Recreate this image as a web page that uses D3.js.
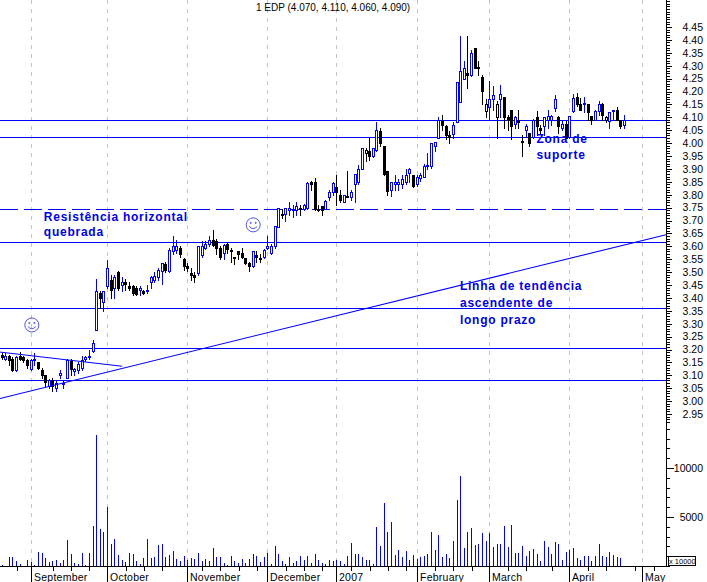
<!DOCTYPE html>
<html><head><meta charset="utf-8">
<script src="https://cdnjs.cloudflare.com/ajax/libs/d3/7.8.5/d3.min.js"></script>
<style>html,body{margin:0;padding:0;background:#fff;overflow:hidden}svg{display:block}
text{font-family:"Liberation Sans",Arial,sans-serif}</style></head><body><div id="c"></div>
<script>
const opens=[3.18,3.165,3.175,3.165,3.12,3.175,3.17,3.16,3.125,3.16,
3.15,3.12,3.10,3.06,3.08,3.05,3.10,3.07,3.09,3.155,
3.115,3.12,3.13,3.165,3.17,3.195,3.275,3.42,3.385,3.445,
3.47,3.44,3.50,3.45,3.46,3.445,3.445,3.44,3.43,3.425,
3.425,3.46,3.47,3.48,3.505,3.53,3.505,3.58,3.585,3.595,
3.55,3.525,3.495,3.49,3.495,3.565,3.595,3.61,3.625,3.62,
3.595,3.575,3.61,3.585,3.56,3.58,3.575,3.555,3.535,3.525,
3.565,3.555,3.56,3.595,3.575,3.60,3.675,3.725,3.725,3.74,
3.74,3.74,3.75,3.745,3.75,3.85,3.85,3.745,3.755,3.745,
3.79,3.81,3.83,3.80,3.77,3.795,3.79,3.84,3.85,3.90,
3.975,3.97,3.95,3.975,4.045,3.99,3.89,3.82,3.84,3.84,
3.84,3.85,3.885,3.875,3.84,3.865,3.87,3.91,3.91,3.99,
4.02,4.085,4.065,4.03,4.035,4.08,4.16,4.25,4.27,4.265,
4.37,4.295,4.255,4.15,4.14,4.17,4.15,4.17,4.18,4.10,
4.13,4.075,4.085,4.01,4.05,4.04,4.025,4.10,4.06,4.065,
4.09,4.09,4.135,4.10,4.06,4.075,4.025,4.125,4.18,4.15,
4.15,4.15,4.105,4.09,4.125,4.15,4.10,4.085,4.125,4.13,4.09,4.07];
const highs=[3.185,3.185,3.18,3.17,3.175,3.19,3.175,3.165,3.165,3.185,
3.15,3.13,3.10,3.085,3.09,3.08,3.12,3.08,3.165,3.165,
3.13,3.15,3.175,3.175,3.20,3.235,3.475,3.425,3.425,3.545,
3.49,3.49,3.505,3.48,3.475,3.46,3.45,3.445,3.445,3.43,
3.45,3.485,3.50,3.515,3.535,3.54,3.595,3.64,3.625,3.60,
3.555,3.535,3.515,3.50,3.60,3.62,3.62,3.64,3.665,3.63,
3.60,3.61,3.615,3.595,3.56,3.58,3.595,3.555,3.54,3.58,
3.58,3.57,3.59,3.64,3.61,3.68,3.75,3.745,3.75,3.77,
3.76,3.77,3.76,3.765,3.85,3.855,3.865,3.76,3.755,3.78,
3.82,3.85,3.875,3.82,3.80,3.89,3.82,3.88,3.915,3.98,
3.98,4.02,3.98,4.08,4.06,3.99,3.89,3.85,3.875,3.86,
3.875,3.90,3.905,3.875,3.875,3.885,3.92,3.96,4.00,4.005,
4.10,4.11,4.07,4.045,4.08,4.235,4.415,4.32,4.415,4.36,
4.37,4.32,4.265,4.17,4.24,4.22,4.165,4.225,4.18,4.11,
4.13,4.105,4.13,4.03,4.075,4.04,4.095,4.125,4.07,4.10,
4.13,4.11,4.185,4.105,4.085,4.085,4.105,4.19,4.195,4.175,
4.18,4.15,4.105,4.13,4.165,4.155,4.105,4.12,4.13,4.14,4.09,4.11];
const lows=[3.165,3.16,3.14,3.115,3.115,3.16,3.15,3.13,3.12,3.14,
3.125,3.09,3.06,3.05,3.04,3.04,3.09,3.05,3.09,3.10,
3.10,3.11,3.12,3.155,3.165,3.19,3.275,3.36,3.35,3.44,
3.40,3.40,3.43,3.425,3.43,3.43,3.41,3.41,3.41,3.415,
3.42,3.44,3.46,3.47,3.455,3.50,3.50,3.57,3.575,3.56,
3.51,3.505,3.47,3.46,3.49,3.56,3.59,3.60,3.60,3.57,
3.55,3.55,3.575,3.54,3.53,3.55,3.555,3.53,3.505,3.52,
3.54,3.54,3.555,3.59,3.57,3.595,3.675,3.71,3.70,3.72,
3.715,3.72,3.72,3.74,3.745,3.82,3.74,3.735,3.72,3.745,
3.78,3.80,3.76,3.77,3.77,3.79,3.78,3.77,3.84,3.90,
3.93,3.935,3.945,3.97,3.99,3.875,3.80,3.795,3.82,3.82,
3.825,3.84,3.85,3.83,3.835,3.855,3.87,3.90,3.905,3.97,
4.02,4.05,4.015,4.00,4.02,4.08,4.16,4.25,4.215,4.26,
4.29,4.265,4.15,4.10,4.09,4.13,4.02,4.10,4.06,4.05,
4.015,4.06,4.06,3.95,4.025,3.99,4.02,4.03,4.04,4.03,
4.06,4.07,4.125,4.04,4.05,4.02,4.02,4.12,4.145,4.13,
4.12,4.09,4.075,4.09,4.11,4.09,4.08,4.06,4.09,4.09,4.06,4.06];
const closes=[3.17,3.175,3.16,3.12,3.17,3.165,3.16,3.14,3.16,3.165,
3.13,3.10,3.075,3.08,3.06,3.07,3.11,3.07,3.16,3.125,
3.125,3.145,3.16,3.17,3.175,3.225,3.425,3.40,3.425,3.515,
3.43,3.48,3.44,3.46,3.455,3.44,3.42,3.415,3.44,3.42,
3.43,3.48,3.485,3.51,3.535,3.51,3.585,3.60,3.60,3.57,
3.525,3.515,3.49,3.48,3.60,3.60,3.61,3.625,3.605,3.595,
3.56,3.605,3.59,3.58,3.555,3.57,3.56,3.535,3.525,3.58,
3.56,3.55,3.585,3.60,3.60,3.68,3.75,3.72,3.75,3.75,
3.745,3.755,3.745,3.76,3.845,3.84,3.745,3.74,3.74,3.775,
3.81,3.845,3.81,3.78,3.80,3.793,3.81,3.88,3.90,3.98,
3.96,3.95,3.98,4.05,4.00,3.88,3.815,3.85,3.85,3.85,
3.86,3.875,3.90,3.835,3.87,3.875,3.91,3.915,4.00,4.005,
4.09,4.07,4.03,4.025,4.07,4.235,4.28,4.29,4.265,4.35,
4.29,4.29,4.20,4.125,4.17,4.185,4.10,4.19,4.10,4.095,
4.065,4.10,4.083,4.005,4.065,4.00,4.09,4.065,4.05,4.10,
4.105,4.105,4.17,4.065,4.075,4.02,4.105,4.175,4.15,4.13,
4.155,4.12,4.09,4.125,4.15,4.11,4.09,4.12,4.13,4.09,4.065,4.09];
const volumes=[100,0,920,920,510,200,0,610,410,100,
1430,1330,820,410,510,610,310,610,2650,1220,
310,200,1330,100,1330,4080,13360,3770,3470,6020,
2240,2750,1120,610,410,1330,1220,510,200,820,
2750,820,920,2140,2240,920,1120,1530,710,510,
1020,610,820,710,1330,510,710,510,1840,920,
920,310,100,1020,510,310,710,310,710,1220,
1020,410,920,1330,200,2040,1220,510,200,920,
310,510,1020,610,1020,310,1220,610,310,200,
610,510,610,510,200,1020,2350,1220,1220,920,
610,610,200,3980,2040,6430,3470,4490,1120,1630,
920,1530,610,1120,710,920,1020,1220,3470,1630,
3160,920,1220,820,2550,6730,9180,1840,3470,3880,
2140,2240,3370,2550,3370,1940,2240,2240,4080,1940,
4180,1330,1330,2040,1020,1530,1730,1220,510,2550,
1940,1220,2450,2240,610,1430,1630,1840,820,610,
1020,1020,510,1020,2240,1020,920,1430,1120,920,820,0];
const blackHollow=[100,133,136,166];
const priceLabels=[4.45,4.40,4.35,4.30,4.25,4.20,4.15,4.10,4.05,4.00,3.95,3.90,3.85,3.80,3.75,3.70,3.65,3.60,3.55,3.50,3.45,3.40,3.35,3.30,3.25,3.20,3.15,3.10,3.05,3.00,2.95];
const volumeLabels=[10000,5000];
const months=["September","October","November","December","2007","February","March","April","May"];
const monthStarts=[8,29,51,73,92,114,134,156,176];
const weekTicks=[4,14,19,24,34,39,44,55,60,65,70,78,83,88,96,101,106,111,119,124,129,139,144,151,161,166,174,179];
const levels=[4.09,4.025,3.615,3.36,3.205,3.08];
const dashedLevels=[3.745];
const trendIdx=[-0.55,182.4], trendPx=[3.01,3.645];
const wedgeIdx=[-0.55,33], wedgePx=[3.19,3.135];
const smileIdx=[8.2,69], smilePx=[3.295,3.683];
const notes=[["Resistência horizontal",11.5,3.70],["quebrada",11.5,3.64],["Zona de",146.8,4.00],["suporte",146.8,3.94],
["Linha de tendência",125.8,3.43],["ascendente de",125.8,3.365],["longo prazo",125.8,3.30]];
const W=707,H=582,BLUE="#0000ff",TXT="#000";
const x=d3.scaleLinear().domain([-0.55,182.4]).range([0,666]);
const y=d3.scaleLinear().domain([4.45,2.95]).range([27,414]);
const v=d3.scaleLinear().domain([0,10000]).range([566,468]);
const svg=d3.select("#c").append("svg").attr("width",W).attr("height",H);
svg.append("rect").attr("width",W).attr("height",H).attr("fill","#fff");
const cols=i=>Math.round(x(i)-0.5);
// grid
svg.append("g").selectAll("line").data(monthStarts).join("line")
 .attr("x1",d=>cols(d)+.5).attr("x2",d=>cols(d)+.5).attr("y1",0).attr("y2",566)
 .attr("stroke","#c4c4c4").attr("stroke-dasharray","4 5");
// levels
const gl=svg.append("g").attr("shape-rendering","crispEdges");
gl.selectAll("line.l").data(levels).join("line").attr("class","l")
 .attr("x1",0).attr("x2",666).attr("y1",d=>Math.round(y(d))+.5).attr("y2",d=>Math.round(y(d))+.5).attr("stroke",BLUE);
gl.selectAll("line.d").data(dashedLevels).join("line").attr("class","d")
 .attr("x1",0).attr("x2",666).attr("y1",d=>Math.round(y(d))+.5).attr("y2",d=>Math.round(y(d))+.5)
 .attr("stroke",BLUE).attr("stroke-dasharray","18 6");
// candles
const idx=d3.range(closes.length);
const isUp=i=>closes[i]>=opens[i];
const col=i=>isUp(i)?BLUE:"#000";
const gc=svg.append("g").attr("shape-rendering","crispEdges");
gc.selectAll("line").data(idx).join("line")
 .attr("x1",i=>cols(i)+.5).attr("x2",i=>cols(i)+.5)
 .attr("y1",i=>Math.round(y(highs[i]))).attr("y2",i=>Math.round(y(lows[i]))+1).attr("stroke",col);
gc.selectAll("rect").data(idx).join("rect")
 .attr("x",i=>cols(i)-.5).attr("width",2)
 .attr("y",i=>Math.round(y(Math.max(opens[i],closes[i])))+.5)
 .attr("height",i=>Math.max(1,Math.round(y(Math.min(opens[i],closes[i])))-Math.round(y(Math.max(opens[i],closes[i])))))
 .attr("stroke",col).attr("fill",i=>(isUp(i)||blackHollow.includes(i))?"#fff":"#000");
// volume
svg.append("g").attr("shape-rendering","crispEdges").selectAll("line").data(idx.filter(i=>volumes[i]>0)).join("line")
 .attr("x1",i=>cols(i)+.5).attr("x2",i=>cols(i)+.5).attr("y1",i=>v(volumes[i])).attr("y2",566).attr("stroke",BLUE);
// trend lines
const seg=(xs,ps,sw)=>svg.append("line").attr("x1",x(xs[0])).attr("x2",x(xs[1])).attr("y1",y(ps[0])).attr("y2",y(ps[1])).attr("stroke",BLUE).attr("stroke-width",sw);
seg(trendIdx,trendPx,1.1); seg(wedgeIdx,wedgePx,1);
// smileys
const sm=svg.append("g").attr("fill","none").attr("stroke","#2a2ae0").attr("stroke-width",.8);
smileIdx.forEach((s,k)=>{
 const cx=x(s),cy=y(smilePx[k]);
 const g=sm.append("g").attr("transform",`translate(${cx},${cy})`);
 g.append("circle").attr("r",7);
 g.append("circle").attr("cx",-2.5).attr("cy",-2).attr("r",.6);
 g.append("circle").attr("cx",2.5).attr("cy",-2).attr("r",.6);
 g.append("path").attr("d","M-4,1.5 Q0,6 4,1.5");
});
// axes
const yMinor=d3.axisRight(y).tickValues(d3.range(292,456).map(d=>d/100)).tickSize(4).tickFormat("");
const yMajor=d3.axisRight(y).tickValues(priceLabels).tickSize(6).tickFormat(d3.format(".2f"));
const vMinor=d3.axisRight(v).tickValues(d3.range(0,14001,1000)).tickSize(4).tickFormat("");
const vMajor=d3.axisRight(v).tickValues(volumeLabels).tickSize(8).tickFormat(d3.format("d"));
[yMinor,yMajor,vMinor,vMajor].forEach(a=>{
 const g=svg.append("g").attr("transform","translate(666,0)").call(a);
 g.select(".domain").remove();
 g.selectAll("line").attr("stroke","#000").attr("shape-rendering","crispEdges");
 g.selectAll("text").attr("x",37).attr("text-anchor","end").attr("font-size",10.5).attr("fill",TXT).attr("font-family",'"Liberation Sans",Arial,sans-serif');
});
svg.append("line").attr("x1",666.5).attr("x2",666.5).attr("y1",0).attr("y2",566).attr("stroke","#000");
svg.append("line").attr("x1",0).attr("x2",666.5).attr("y1",566.5).attr("y2",566.5).attr("stroke","#000");
const xt=d3.axisBottom(x).tickValues(weekTicks).tickSize(5).tickFormat("");
const xg=svg.append("g").attr("transform","translate(0,566)").call(xt);
xg.select(".domain").remove(); xg.selectAll("line").attr("stroke","#000").attr("shape-rendering","crispEdges");
svg.append("g").attr("shape-rendering","crispEdges").selectAll("line").data(monthStarts).join("line")
 .attr("x1",d=>cols(d)+.5).attr("x2",d=>cols(d)+.5).attr("y1",566).attr("y2",582).attr("stroke","#000");
svg.append("g").selectAll("text").data(months).join("text").text(d=>d)
 .attr("x",(d,i)=>cols(monthStarts[i])+3).attr("y",580.5).attr("font-size",10.5).attr("letter-spacing",.25).attr("fill",TXT);
// title, box
svg.append("text").attr("x",256).attr("y",11).attr("font-size",10).attr("fill",TXT).text("1 EDP (4.070, 4.110, 4.060, 4.090)");
svg.append("rect").attr("x",668.5).attr("y",556.5).attr("width",27).attr("height",9).attr("fill","#fff").attr("stroke","#000").attr("shape-rendering","crispEdges");
svg.append("text").attr("x",669).attr("y",564).attr("font-size",7.5).attr("fill",TXT).text("x 10000");
// notes
svg.append("g").selectAll("text").data(notes).join("text").text(d=>d[0])
 .attr("x",d=>x(d[1])).attr("y",d=>y(d[2])).attr("font-size",12).attr("font-weight","bold").attr("letter-spacing",.75).attr("fill","#0000e6");
</script></body></html>
